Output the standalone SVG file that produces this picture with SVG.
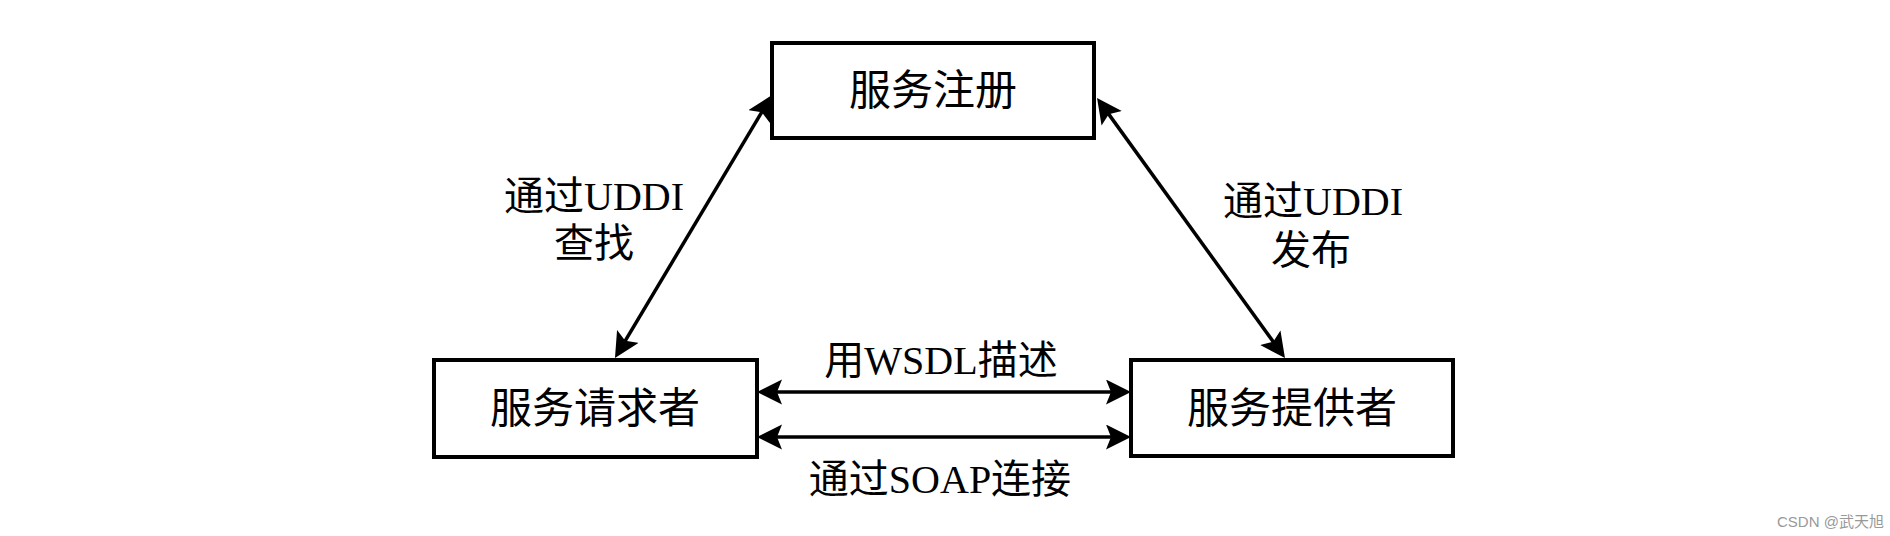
<svg xmlns="http://www.w3.org/2000/svg" width="1890" height="536" viewBox="0 0 1890 536">
<style>
.box{fill:#fff;stroke:#000;stroke-width:4}
.t{font-family:"Liberation Serif","Noto Sans CJK SC",serif;fill:#000;text-anchor:middle}
.bt{font-size:42px}
.lt{font-size:40px}
.conn{stroke:#000;stroke-width:3.5;fill:none;marker-start:url(#ah);marker-end:url(#ah)}
.wm{font-family:"Liberation Sans","Noto Sans CJK SC",sans-serif;font-size:15px;fill:#999}
</style>
<defs>
<marker id="ah" markerUnits="userSpaceOnUse" markerWidth="26" markerHeight="26" viewBox="0 0 26 26" refX="15" refY="12.5" orient="auto-start-reverse">
<path d="M0,0 L25,12.5 L0,25 L5,12.5 z" fill="#000"/>
</marker>
</defs>
<rect width="1890" height="536" fill="#fff"/>
<g id="connectors">
<line class="conn" x1="766.9" y1="103.6" x2="620.1" y2="349.4"/>
<line class="conn" x1="1102.9" y1="106.1" x2="1279.1" y2="349.9"/>
<line class="conn" x1="767" y1="392" x2="1121" y2="392"/>
<line class="conn" x1="767" y1="437" x2="1121" y2="437"/>
<text class="t lt" x="594" y="210">通过UDDI</text>
<text class="t lt" x="594" y="257">查找</text>
<text class="t lt" x="1313" y="215">通过UDDI</text>
<text class="t lt" x="1311" y="264">发布</text>
<text class="t lt" x="941" y="374">用WSDL描述</text>
<text class="t lt" x="940" y="493">通过SOAP连接</text>
</g>
<g id="registry">
<rect class="box" x="772" y="43" width="322" height="95"/>
<text class="t bt" x="933" y="105">服务注册</text>
</g>
<g id="requester">
<rect class="box" x="434" y="360" width="323" height="97"/>
<text class="t bt" x="595" y="423">服务请求者</text>
</g>
<g id="provider">
<rect class="box" x="1131" y="360" width="322" height="96"/>
<text class="t bt" x="1292" y="423">服务提供者</text>
</g>
<text class="wm" x="1777" y="527">CSDN @武天旭</text>
</svg>
